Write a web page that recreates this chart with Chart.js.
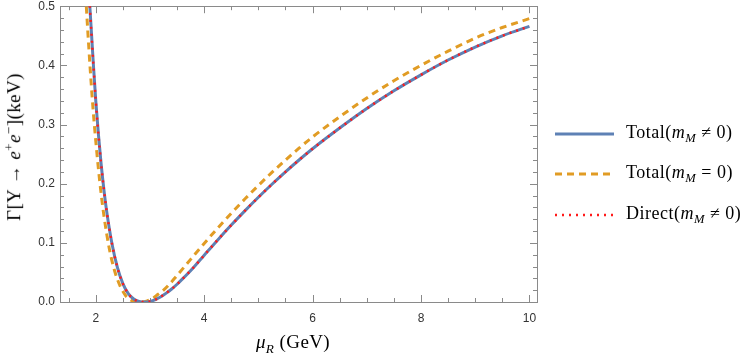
<!DOCTYPE html>
<html>
<head>
<meta charset="utf-8">
<script src="https://cdn.jsdelivr.net/npm/chart.js@4.4.1/dist/chart.umd.min.js"></script>
<style>
  html, body { margin:0; padding:0; background:#fff; }
  #wrap { position:relative; width:747px; height:357px; overflow:hidden; }
  canvas { position:absolute; left:0; top:-6px; }
  .serif { font-family:"Liberation Serif","DejaVu Serif",serif; color:#000; position:absolute; white-space:nowrap; letter-spacing:0.4px; }
  #ytitle { font-size:19px; left:13px; top:147px; transform:translate(-50%,-50%) rotate(-90deg); }
  #xtitle { font-size:19px; left:293px; top:344px; transform:translate(-50%,-50%); }
  .leg { position:absolute; left:555px; height:22px; display:flex; align-items:center; font-family:"Liberation Serif","DejaVu Serif",serif; font-size:18px; letter-spacing:0.5px; white-space:nowrap; transform:translateY(-50%); }
  .leg svg { margin-right:11px; }
  sub { font-size:70%; vertical-align:-0.35em; }
  sup { font-size:70%; vertical-align:0.5em; }
</style>
</head>
<body>
<div id="wrap">
  <canvas id="c" width="747" height="363"></canvas>
  <div id="ytitle" class="serif">Γ[Υ → <i>e</i><sup>+</sup><i>e</i><sup>−</sup>](keV)</div>
  <div id="xtitle" class="serif"><i>μ</i><sub><i>R</i></sub> (GeV)</div>
  <div id="legend"></div>
</div>
<script>
// ---- data ----
const seriesNames = ["Total(m_M ≠ 0)", "Total(m_M = 0)", "Direct(m_M ≠ 0)"];

const totalMassiveX = [1.86,1.89,1.95,2.00,2.05,2.10,2.15,2.20,2.30,2.40,2.50,2.60,2.70,2.80,2.90,3.00,3.10,3.20,3.30,3.40,3.50,3.60,3.80,4.00,4.25,4.50,4.75,5.00,5.25,5.50,5.75,6.00,6.50,7.00,7.50,8.00,8.50,9.00,9.50,10.00];
const totalMassiveY = [0.548,0.500,0.410,0.340,0.282,0.232,0.190,0.154,0.098,0.058,0.031,0.014,0.005,0.001,0.000,0.001,0.004,0.009,0.015,0.022,0.030,0.039,0.058,0.079,0.105,0.130,0.154,0.177,0.199,0.220,0.240,0.259,0.294,0.327,0.357,0.384,0.409,0.431,0.450,0.466];

const totalMasslessX = [1.80,1.85,1.90,1.95,2.00,2.05,2.10,2.15,2.25,2.35,2.45,2.55,2.65,2.75,2.84,2.95,3.05,3.15,3.25,3.35,3.50,3.75,4.00,4.25,4.50,4.75,5.00,5.25,5.50,5.75,6.00,6.50,7.00,7.50,8.00,8.50,9.00,9.50,10.00];
const totalMasslessY = [0.540,0.462,0.390,0.326,0.272,0.224,0.182,0.146,0.090,0.052,0.027,0.011,0.003,0.0005,0.000,0.002,0.006,0.013,0.020,0.029,0.045,0.072,0.099,0.125,0.150,0.174,0.197,0.219,0.240,0.260,0.279,0.313,0.345,0.374,0.400,0.424,0.446,0.464,0.479];

const directMassiveX = [1.86,1.89,1.95,2.00,2.05,2.10,2.15,2.20,2.30,2.40,2.50,2.60,2.70,2.80,2.90,3.00,3.10,3.20,3.30,3.40,3.50,3.60,3.80,4.00,4.25,4.50,4.75,5.00,5.25,5.50,5.75,6.00,6.50,7.00,7.50,8.00,8.50,9.00,9.50,10.00];
const directMassiveY = [0.548,0.500,0.410,0.340,0.282,0.232,0.190,0.154,0.098,0.058,0.031,0.014,0.005,0.001,0.000,0.001,0.004,0.009,0.015,0.022,0.030,0.039,0.058,0.079,0.105,0.130,0.154,0.177,0.199,0.220,0.240,0.259,0.294,0.327,0.357,0.384,0.409,0.431,0.450,0.466];

const xTickValues = [2, 4, 6, 8, 10];
const yTickValues = [0.0, 0.1, 0.2, 0.3, 0.4, 0.5];
const xRange = [1.34, 10.14];
const yRange = [0, 0.5];
const xMinorStep = 0.5;
const yMinorStep = 0.02;

// ---- styles ----
const styles = [
  { color:"#5E81B5", width:3, dash:[] , order:1},
  { color:"#E19C24", width:3, dash:[7,5], order:2},
  { color:"#FF1A1A", width:2.5, dash:[2,5], order:0}
];
const legendY = [134, 174, 215];

function pts(xs, ys){ return xs.map((x,i)=>({x:x, y:ys[i]})); }
const dataSets = [
  pts(totalMassiveX, totalMassiveY),
  pts(totalMasslessX, totalMasslessY),
  pts(directMassiveX, directMassiveY)
];

const frameColor = "#8a8a8a";

const frameTicks = {
  id:"frameTicks",
  beforeDatasetsDraw(chart){
    const {ctx, chartArea:a, scales:{x, y}} = chart;
    ctx.save();
    ctx.strokeStyle = frameColor;
    ctx.lineWidth = 1;
    ctx.strokeRect(Math.round(a.left)+0.5, Math.round(a.top)+0.5, Math.round(a.right-a.left), Math.round(a.bottom-a.top));
    ctx.beginPath();
    const x0 = Math.ceil(xRange[0]/xMinorStep)*xMinorStep;
    for (let v = x0; v <= xRange[1]+1e-9; v += xMinorStep) {
      const vv = Math.round(v*1000)/1000;
      const major = xTickValues.some(t=>Math.abs(t-vv)<1e-6);
      const len = major ? 7 : 4;
      const px = Math.round(x.getPixelForValue(vv))+0.5;
      ctx.moveTo(px, a.bottom); ctx.lineTo(px, a.bottom-len);
      ctx.moveTo(px, a.top); ctx.lineTo(px, a.top+len);
    }
    for (let k = 0; k*yMinorStep <= yRange[1]+1e-9; k++) {
      const vv = Math.round(k*yMinorStep*1000)/1000;
      const major = yTickValues.some(t=>Math.abs(t-vv)<1e-6);
      const len = major ? 7 : 4;
      const py = Math.round(y.getPixelForValue(vv))+0.5;
      ctx.moveTo(a.left, py); ctx.lineTo(a.left+len, py);
      ctx.moveTo(a.right, py); ctx.lineTo(a.right-len, py);
    }
    ctx.stroke();
    ctx.restore();
  }
};

new Chart(document.getElementById("c"), {
  type:"line",
  data:{
    datasets: dataSets.map((d,i)=>({
      label: seriesNames[i],
      data: d,
      borderColor: styles[i].color,
      backgroundColor: styles[i].color,
      borderWidth: styles[i].width,
      borderDash: styles[i].dash,
      borderCapStyle: "butt",
      pointRadius: 0,
      fill: false,
      cubicInterpolationMode: "monotone",
      order: styles[i].order
    }))
  },
  plugins:[frameTicks],
  options:{
    responsive:false,
    animation:false,
    layout:{ padding:{ left:0, right:210, top:0, bottom:0 } },
    plugins:{ legend:{display:false}, tooltip:{enabled:false} },
    scales:{
      x:{
        type:"linear", min:xRange[0], max:xRange[1],
        grid:{ display:false, drawTicks:false },
        border:{ display:false },
        afterBuildTicks(s){ s.ticks = xTickValues.map(v=>({value:v})); },
        afterFit(s){ s.height = 55; },
        ticks:{ padding:9, color:"#333", font:{family:"Liberation Sans, Arial, sans-serif", size:12}, maxRotation:0,
                callback:(v)=>String(v) }
      },
      y:{
        type:"linear", min:yRange[0], max:yRange[1],
        grid:{ display:false, drawTicks:false },
        border:{ display:false },
        afterBuildTicks(s){ s.ticks = yTickValues.map(v=>({value:v})); },
        afterFit(s){ s.width = 60; },
        ticks:{ padding:5, color:"#333", font:{family:"Liberation Sans, Arial, sans-serif", size:12},
                callback:(v)=>Number(v).toFixed(1) }
      }
    }
  }
});

const legendHtml = [
  'Total(<i>m</i><sub><i>M</i></sub> ≠ 0)',
  'Total(<i>m</i><sub><i>M</i></sub> = 0)',
  'Direct(<i>m</i><sub><i>M</i></sub> ≠ 0)'
];
const legEl = document.getElementById("legend");
legendHtml.forEach((h,i)=>{
  const st = styles[i];
  const div = document.createElement("div");
  div.className = "leg";
  div.style.top = legendY[i] + "px";
  div.innerHTML = '<svg width="60" height="6"><line x1="0" y1="3" x2="59" y2="3" stroke="'+st.color+'" stroke-width="'+st.width+'"' +
    (st.dash.length ? ' stroke-dasharray="'+st.dash.join(',')+'"' : '') + '/></svg><span>'+h+'</span>';
  legEl.appendChild(div);
});
</script>
</body>
</html>
